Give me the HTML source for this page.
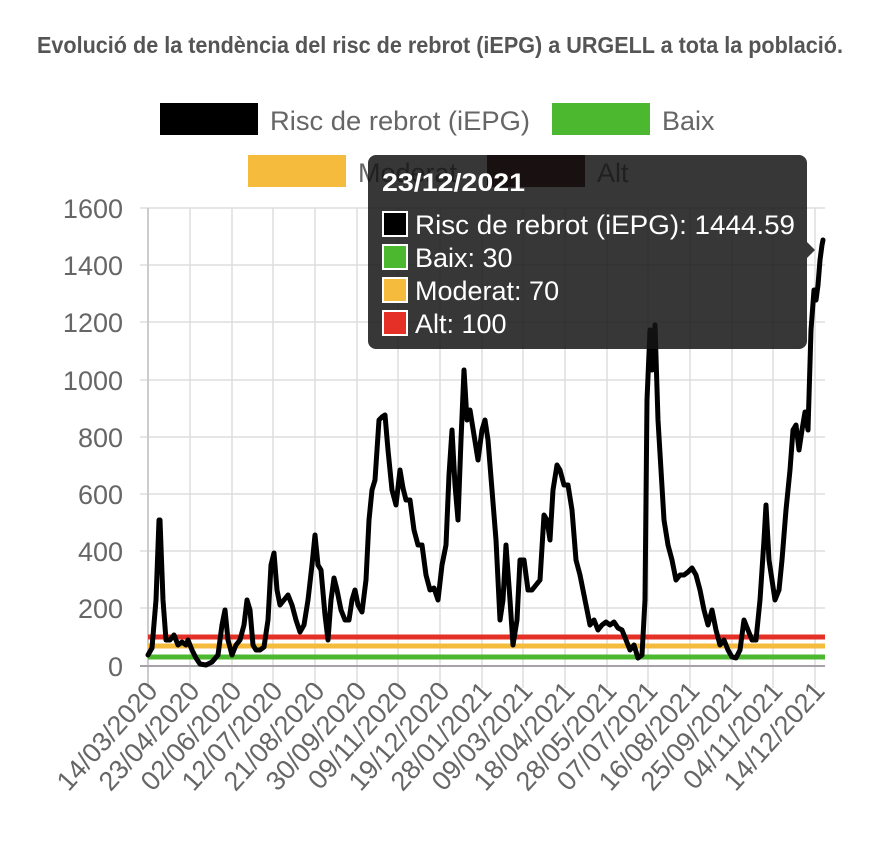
<!DOCTYPE html>
<html><head><meta charset="utf-8"><style>body{margin:0;background:#fff}svg{display:block}</style></head><body>
<svg width="880" height="865" viewBox="0 0 880 865" xmlns="http://www.w3.org/2000/svg" font-family="Liberation Sans, sans-serif">
<text x="440" y="53" text-anchor="middle" font-size="23" font-weight="bold" fill="#555" textLength="806" lengthAdjust="spacingAndGlyphs">Evolució de la tendència del risc de rebrot (iEPG) a URGELL a tota la població.</text>
<rect x="160" y="103" width="98" height="32" fill="#000"/>
<text x="270" y="130" font-size="27" fill="#666" textLength="260" lengthAdjust="spacingAndGlyphs">Risc de rebrot (iEPG)</text>
<rect x="552" y="103" width="98" height="32" fill="#4cb82f"/>
<text x="662" y="130" font-size="27" fill="#666">Baix</text>
<rect x="248" y="155" width="98" height="32" fill="#f4bb3c"/>
<text x="358" y="182" font-size="27" fill="#666">Moderat</text>
<rect x="487" y="155" width="98" height="32" fill="#3a0000"/>
<text x="597" y="182" font-size="27" fill="#666">Alt</text>
<g stroke="#ddd" stroke-width="1.5">
<line x1="140" y1="208" x2="825" y2="208"/><line x1="140" y1="265" x2="825" y2="265"/><line x1="140" y1="322" x2="825" y2="322"/><line x1="140" y1="380" x2="825" y2="380"/><line x1="140" y1="437" x2="825" y2="437"/><line x1="140" y1="494" x2="825" y2="494"/><line x1="140" y1="551" x2="825" y2="551"/><line x1="140" y1="608" x2="825" y2="608"/>
<line x1="190" y1="208" x2="190" y2="688"/><line x1="232" y1="208" x2="232" y2="688"/><line x1="273" y1="208" x2="273" y2="688"/><line x1="315" y1="208" x2="315" y2="688"/><line x1="357" y1="208" x2="357" y2="688"/><line x1="398" y1="208" x2="398" y2="688"/><line x1="440" y1="208" x2="440" y2="688"/><line x1="482" y1="208" x2="482" y2="688"/><line x1="523" y1="208" x2="523" y2="688"/><line x1="565" y1="208" x2="565" y2="688"/><line x1="607" y1="208" x2="607" y2="688"/><line x1="648" y1="208" x2="648" y2="688"/><line x1="690" y1="208" x2="690" y2="688"/><line x1="732" y1="208" x2="732" y2="688"/><line x1="773" y1="208" x2="773" y2="688"/><line x1="815" y1="208" x2="815" y2="688"/>
</g>
<line x1="148" y1="208" x2="148" y2="688" stroke="#ccc" stroke-width="2"/>
<line x1="140" y1="666" x2="825" y2="666" stroke="#a9a1a9" stroke-width="2"/>
<g font-size="27" fill="#666" text-anchor="end">
<text x="123" y="218">1600</text><text x="123" y="275">1400</text><text x="123" y="332">1200</text><text x="123" y="390">1000</text><text x="123" y="447">800</text><text x="123" y="504">600</text><text x="123" y="561">400</text><text x="123" y="618">200</text><text x="123" y="676">0</text>
</g>
<g font-size="27" fill="#666" text-anchor="end">
<text transform="translate(159,692) rotate(-48)">14/03/2020</text>
<text transform="translate(201,692) rotate(-48)">23/04/2020</text>
<text transform="translate(243,692) rotate(-48)">02/06/2020</text>
<text transform="translate(284,692) rotate(-48)">12/07/2020</text>
<text transform="translate(326,692) rotate(-48)">21/08/2020</text>
<text transform="translate(368,692) rotate(-48)">30/09/2020</text>
<text transform="translate(409,692) rotate(-48)">09/11/2020</text>
<text transform="translate(451,692) rotate(-48)">19/12/2020</text>
<text transform="translate(493,692) rotate(-48)">28/01/2021</text>
<text transform="translate(534,692) rotate(-48)">09/03/2021</text>
<text transform="translate(576,692) rotate(-48)">18/04/2021</text>
<text transform="translate(618,692) rotate(-48)">28/05/2021</text>
<text transform="translate(659,692) rotate(-48)">07/07/2021</text>
<text transform="translate(701,692) rotate(-48)">16/08/2021</text>
<text transform="translate(743,692) rotate(-48)">25/09/2021</text>
<text transform="translate(784,692) rotate(-48)">04/11/2021</text>
<text transform="translate(826,692) rotate(-48)">14/12/2021</text>
</g>
<line x1="148" y1="637" x2="825" y2="637" stroke="#e53027" stroke-width="5"/>
<line x1="148" y1="646" x2="825" y2="646" stroke="#f4bb3c" stroke-width="5"/>
<line x1="148" y1="657" x2="825" y2="657" stroke="#4cb82f" stroke-width="5"/>
<polyline fill="none" stroke="#000" stroke-width="5" stroke-linejoin="round" stroke-linecap="round" points="148,655 152,648 156,600 159,520 160,520 163,600 166,640 170,640 174,635 178,645 182,642 186,645 188,640 192,650 196,658 200,664 206,665 212,662 218,655 222,625 225,610 228,640 232,655 236,645 240,640 244,625 247,600 250,610 253,645 256,650 260,650 264,647 268,620 271,565 274,553 277,590 280,605 284,600 288,595 292,605 296,620 300,632 304,625 308,600 312,565 315,535 318,565 321,570 325,615 328,640 331,600 334,578 337,590 341,610 345,620 349,620 352,600 355,590 358,605 362,612 366,580 369,520 372,490 375,480 379,420 382,417 385,415 388,450 392,490 396,505 400,470 403,488 406,500 410,500 414,530 418,545 422,545 426,575 430,590 434,588 438,600 442,565 446,545 449,475 452,430 455,485 458,520 461,440 464,370 467,420 470,410 474,435 478,460 482,430 485,420 488,440 492,490 496,540 500,620 503,600 506,545 510,600 513,645 517,620 520,560 524,560 528,590 532,590 536,585 540,580 544,515 547,520 550,540 553,490 557,465 560,470 564,485 568,485 572,510 576,560 580,575 583,590 587,610 590,625 594,620 598,630 602,625 606,622 610,625 614,622 618,628 622,630 626,640 630,650 634,645 638,658 642,655 645,600 647,400 650,330 652,370 655,325 658,420 661,470 664,520 668,545 672,560 676,580 680,575 684,575 688,572 692,568 696,575 700,590 704,610 708,625 712,610 716,630 720,645 724,640 728,650 732,657 736,658 740,650 744,620 748,630 752,640 756,640 760,600 764,540 766,505 769,560 772,580 775,600 779,590 782,560 786,510 790,470 793,430 796,425 799,450 802,430 805,412 808,430 811,330 814,290 816,300 818,285 820,260 822,245 823,240"/>
<path d="M376,155 H799 a8,8 0 0 1 8,8 V242 L815,250 L807,258 V341 a8,8 0 0 1 -8,8 H376 a8,8 0 0 1 -8,-8 V163 a8,8 0 0 1 8,-8 Z" fill="rgba(20,20,20,0.85)"/>
<text x="382" y="191" font-size="25" font-weight="bold" fill="#fff" textLength="143" lengthAdjust="spacingAndGlyphs">23/12/2021</text>
<rect x="383" y="212" width="24" height="24" fill="#000" stroke="#fff" stroke-width="2"/>
<text x="415" y="234" font-size="27" fill="#fff" textLength="380" lengthAdjust="spacingAndGlyphs">Risc de rebrot (iEPG): 1444.59</text>
<rect x="383" y="245" width="24" height="24" fill="#4cb82f" stroke="#fff" stroke-width="2"/>
<text x="415" y="267" font-size="27" fill="#fff">Baix: 30</text>
<rect x="383" y="278" width="24" height="24" fill="#f4bb3c" stroke="#fff" stroke-width="2"/>
<text x="415" y="300" font-size="27" fill="#fff">Moderat: 70</text>
<rect x="383" y="311" width="24" height="24" fill="#e53027" stroke="#fff" stroke-width="2"/>
<text x="415" y="333" font-size="27" fill="#fff">Alt: 100</text>
</svg>
</body></html>
